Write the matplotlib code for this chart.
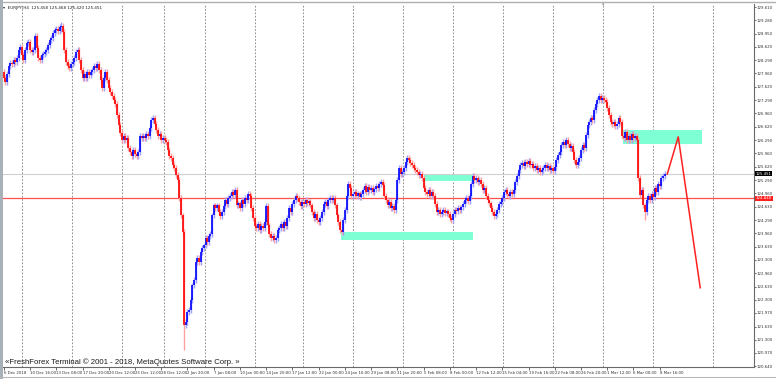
import matplotlib.pyplot as plt
from matplotlib.patches import Rectangle
from matplotlib.lines import Line2D
import matplotlib.transforms as mtransforms

# ── DATA (EURJPY H4) ───────────────────────────────────────
first_open = 128.00
closes = [
    127.84, 127.74, 127.94, 128.14, 128.21, 128.19, 128.29, 128.24, 128.34, 128.54,
    128.61, 128.41, 128.29, 128.54, 128.71, 128.74, 128.54, 128.49, 128.54, 128.89,
    128.59, 128.34, 128.29, 128.41, 128.44, 128.49, 128.54, 128.66, 128.79, 128.84,
    128.96, 129.04, 129.06, 129.01, 129.11, 129.14, 128.99, 128.54, 128.24, 128.14,
    128.09, 128.19, 128.24, 128.34, 128.49, 128.54, 128.29, 128.04, 127.84, 127.94,
    127.84, 127.99, 127.91, 127.99, 128.04, 128.14, 128.09, 128.19, 128.04, 127.79,
    127.59, 127.84, 127.99, 127.79, 127.59, 127.49, 127.39, 127.29, 127.19, 126.91,
    126.66, 126.46, 126.29, 126.39, 126.29, 126.34, 126.09, 125.99, 125.89, 126.04,
    125.94, 125.89, 125.99, 126.39, 126.34, 126.39, 126.34, 126.44, 126.39, 126.59,
    126.79, 126.84, 126.69, 126.54, 126.39, 126.44, 126.29, 126.34, 126.29, 126.24,
    126.04, 125.89, 125.84, 125.66, 125.59, 125.41, 125.29, 124.84, 124.41, 123.99,
    121.66, 121.74, 121.99, 122.04, 122.29, 122.66, 122.79, 123.24, 123.34, 123.24,
    123.49, 123.59, 123.66, 123.84, 123.74, 123.89, 123.94, 124.41, 124.66, 124.59,
    124.66, 124.49, 124.39, 124.49, 124.64, 124.79, 124.69, 124.84, 124.89, 124.99,
    124.91, 125.04, 124.66, 124.71, 124.59, 124.79, 124.69, 124.84, 124.79, 124.94,
    124.89, 124.59, 124.34, 124.14, 124.09, 124.19, 124.04, 124.14, 124.09, 124.24,
    124.64, 124.16, 123.94, 123.84, 123.89, 123.79, 123.84, 124.04, 124.09, 124.19,
    124.09, 124.24, 124.14, 124.34, 124.59, 124.49, 124.69, 124.79, 124.89, 124.84,
    124.74, 124.64, 124.74, 124.69, 124.79, 124.71, 124.76, 124.66, 124.49, 124.34,
    124.44, 124.29, 124.24, 124.34, 124.49, 124.69, 124.74, 124.64, 124.79, 124.84,
    124.79, 124.84, 124.66, 124.41, 124.24, 124.04, 123.99, 124.29, 124.54, 124.89,
    125.19, 125.09, 124.89, 124.94, 124.99, 124.89, 124.96, 124.86, 124.94, 125.04,
    125.14, 124.99, 125.11, 125.04, 125.09, 124.99, 125.06, 125.14, 125.09, 125.19,
    125.24, 125.16, 124.89, 124.79, 124.66, 124.74, 124.59, 124.64, 124.54, 124.79,
    125.29, 125.59, 125.44, 125.49, 125.59, 125.74, 125.84, 125.79, 125.71, 125.66,
    125.59, 125.54, 125.49, 125.41, 125.44, 125.34, 125.09, 124.99, 124.94, 125.04,
    124.89, 124.99, 124.89, 124.69, 124.49, 124.54, 124.44, 124.49, 124.54, 124.46,
    124.51, 124.44, 124.34, 124.29, 124.44, 124.54, 124.51, 124.59, 124.54, 124.61,
    124.69, 124.79, 124.84, 124.76, 124.89, 125.19, 125.39, 125.29, 125.34, 125.24,
    125.29, 125.19, 125.04, 125.09, 124.89, 124.79, 124.71, 124.59, 124.49, 124.39,
    124.44, 124.54, 124.69, 124.74, 124.84, 124.99, 125.04, 124.94, 124.89, 124.99,
    124.94, 125.04, 125.24, 125.39, 125.54, 125.66, 125.71, 125.64, 125.74, 125.69,
    125.76, 125.66, 125.69, 125.59, 125.64, 125.54, 125.59, 125.49, 125.54, 125.59,
    125.66, 125.59, 125.64, 125.54, 125.59, 125.51, 125.61, 125.79, 125.91, 125.99,
    126.16, 126.24, 126.16, 126.29, 126.19, 126.09, 126.14, 125.99, 125.79, 125.66,
    125.74, 125.84, 126.04, 126.16, 126.09, 126.41, 126.66, 126.74, 126.84, 126.79,
    127.04, 127.19, 127.29, 127.39, 127.29, 127.34, 127.29, 127.24, 127.09, 126.91,
    126.74, 126.69, 126.74, 126.64, 126.69, 126.84, 126.74, 126.39, 126.34, 126.49,
    126.29, 126.39, 126.29, 126.44, 126.34, 126.39, 126.29, 125.34, 124.91, 125.04,
    124.66, 124.49, 124.79, 124.89, 124.79, 124.94, 124.86, 125.09, 124.99, 125.19,
    125.14, 125.34, 125.39, 125.451,
]
wick_size = 0.07
spike_bars = [35, 110, 391]
spike_highs = [129.24, 123.99, 124.66]
spike_lows = [128.99, 121.05, 124.30]

x_tick_labels = [
    "6 Dec 2018", "10 Dec 16:00", "13 Dec 08:00", "17 Dec 20:00", "20 Dec 12:00",
    "25 Dec 12:00", "28 Dec 12:00", "2 Jan 20:00", "7 Jan 08:00", "10 Jan 00:00",
    "14 Jan 20:00", "17 Jan 12:00", "22 Jan 00:00", "24 Jan 16:00", "29 Jan 08:00",
    "31 Jan 20:00", "5 Feb 08:00", "8 Feb 00:00", "12 Feb 12:00", "15 Feb 04:00",
    "19 Feb 16:00", "22 Feb 08:00", "26 Feb 20:00", "1 Mar 12:00", "6 Mar 00:00",
    "8 Mar 16:00",
]
bars_per_label = 16
y_ticks = [129.61, 129.28, 128.95, 128.62, 128.29, 127.96, 127.62, 127.29, 126.96,
           126.62, 126.29, 125.96, 125.62, 125.29, 124.96, 124.63, 124.29, 123.96,
           123.63, 123.30, 122.96, 122.63, 122.30, 121.97, 121.63, 121.30, 120.97,
           120.64]
grid_bars = [11.3, 41.8, 72.3, 97.9, 122.9, 153.4, 182.6, 213.1, 243.6, 274.1,
             304.6, 335.1, 365.5, 396.0, 432.6]

# demand / supply zones
zone_start = [377.8, 256.4, 205.8]
zone_end = [425.9, 286.3, 286.3]
zone_low = [126.19, 125.27, 123.79]
zone_high = [126.54, 125.44, 123.99]

# forecast line
proj_x = [404.6, 411.3, 424.7]
proj_y = [125.44, 126.37, 122.60]

bid_price = 125.451
level_price = 124.840

# ── FIGURE ─────────────────────────────────────────────────
fig = plt.figure(figsize=(7.76, 3.79), dpi=100)
fig.patch.set_facecolor("white")
ax = fig.add_axes([3 / 776, 1 - 367 / 379, 751 / 776, 363 / 379])
ax.set_xlim(-0.5, 457.5)
ax.set_ylim(120.62, 129.69)

opens = [first_open] + closes[:-1]
for i, (o, c) in enumerate(zip(opens, closes)):
    hi = max(o, c) + wick_size
    lo = min(o, c) - wick_size
    if i in spike_bars:
        k = spike_bars.index(i)
        hi = max(hi, spike_highs[k])
        lo = min(lo, spike_lows[k])
    up = c >= o
    body_c = "#0000FF" if up else "#FF0000"
    wick_c = "#a0a0ff" if up else "#ffa0a0"
    ax.vlines(i, lo, hi, color=wick_c, lw=1.0, zorder=3)
    b0, b1 = min(o, c), max(o, c)
    if b1 - b0 < 0.015:
        b1 = b0 + 0.015
    ax.vlines(i, b0, b1, color=body_c, lw=1.2, zorder=4)

for s, e, lo, hi in zip(zone_start, zone_end, zone_low, zone_high):
    ax.add_patch(Rectangle((s, lo), e - s, hi - lo, facecolor="#7FFFD4",
                           edgecolor="none", zorder=1))

for g in grid_bars:
    ax.axvline(g, color="#7a7a7a", lw=0.6, linestyle=(0, (2, 2)), zorder=0)

ax.axhline(bid_price, color="#d0d0d0", lw=0.8, zorder=2)
ax.axhline(level_price, color="#ff5050", lw=0.9, zorder=2)
ax.plot(proj_x, proj_y, color="#ff2020", lw=1.1, zorder=5)

# axes styling
for side in ["top", "left"]:
    ax.spines[side].set_visible(False)
for side in ["right", "bottom"]:
    ax.spines[side].set_color("#6a6a6a")
    ax.spines[side].set_linewidth(0.8)

ax.yaxis.tick_right()
ax.set_yticks(y_ticks)
ax.set_yticklabels([f"{v:.3f}" for v in y_ticks])
ax.tick_params(axis="y", labelsize=2.8, length=1.2, width=0.5, pad=0.8,
               colors="#303030")
ax.set_xticks([k * bars_per_label for k in range(len(x_tick_labels))])
ax.set_xticklabels(x_tick_labels, ha="left")
ax.tick_params(axis="x", labelsize=2.8, length=2, width=0.5, pad=1.2,
               colors="#303030")

tr = mtransforms.blended_transform_factory(ax.transAxes, ax.transData)
ax.text(1.0025, bid_price, "125.451", transform=tr, fontsize=2.8, color="white",
        va="center", ha="left",
        bbox=dict(boxstyle="square,pad=0.12", fc="black", ec="none"))
ax.text(1.0025, level_price, "124.840", transform=tr, fontsize=2.8, color="white",
        va="center", ha="left",
        bbox=dict(boxstyle="square,pad=0.12", fc="#ff2020", ec="none"))

ax.text(0.002, 0.004, "«FreshForex Terminal © 2001 - 2018, MetaQuotes Software Corp. »",
        transform=ax.transAxes, fontsize=5.6, family="Liberation Sans",
        color="#1a1a1a", va="bottom", ha="left", zorder=6)
fig.text(3 / 776, 1 - 7.5 / 379, "▾  EURJPY,H4  125.458 125.468 125.420 125.451",
         fontsize=3.0, color="#202020", va="center", ha="left")
fig.text(603 / 776, 1 - 4.5 / 379, "▾", fontsize=3.5, color="#909090",
         va="center", ha="center")

# window frame bits
fig.add_artist(Rectangle((0, 0), 2.5 / 776, 1, transform=fig.transFigure,
                         facecolor="#a8b0b8", edgecolor="none"))
fig.add_artist(Line2D([0, 1], [1 - 1.5 / 379, 1 - 1.5 / 379], transform=fig.transFigure,
                      color="#b0b0b0", lw=1))
fig.add_artist(Line2D([0, 1], [1 - 376.5 / 379, 1 - 376.5 / 379],
                      transform=fig.transFigure, color="#b8b8b8", lw=0.8))

plt.savefig("out.png", dpi=100)
